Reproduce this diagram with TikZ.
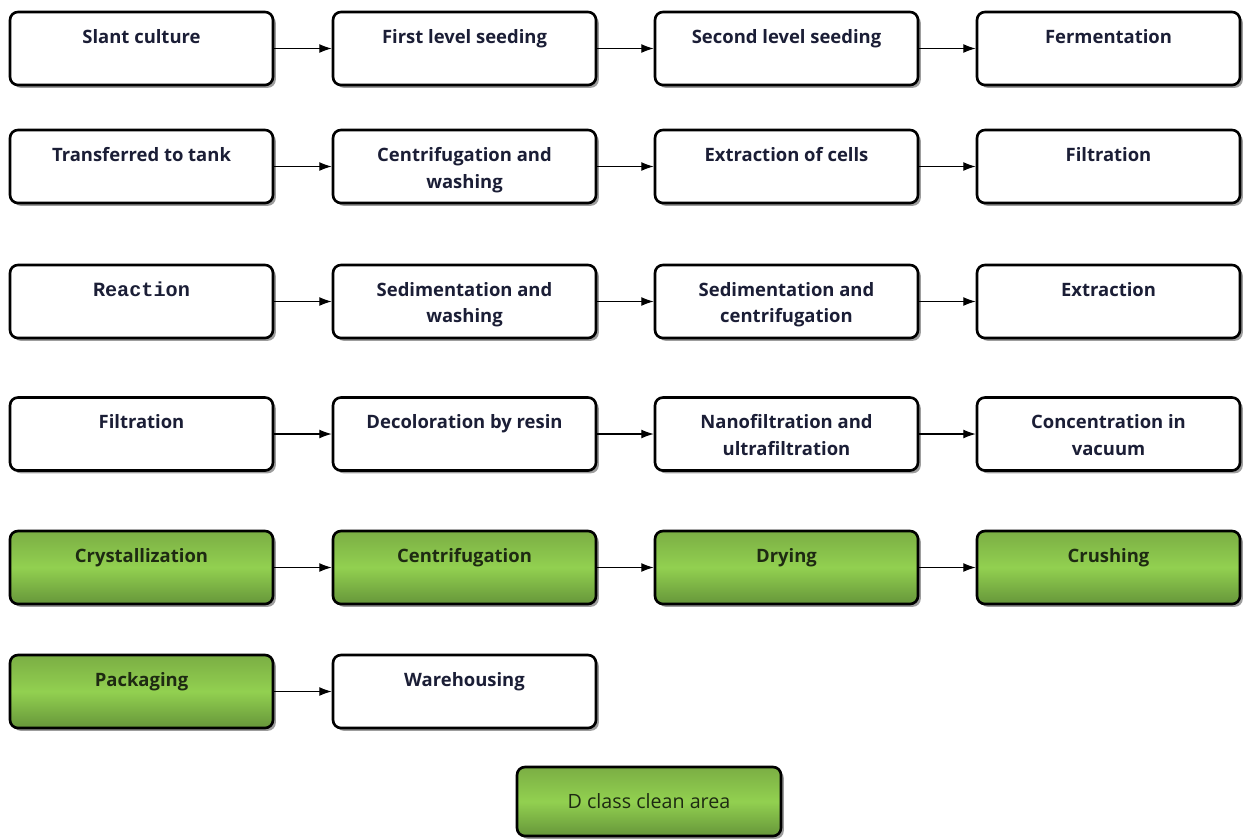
\documentclass[tikz,border=0pt]{standalone}
\usepackage{fontspec}
\setmainfont{Open Sans}
\newfontfamily\monofont{Liberation Mono}
\usetikzlibrary{arrows.meta,shadows}

\definecolor{txtdark}{HTML}{1B1E36}
\definecolor{txtgreen}{HTML}{1E2A12}
\definecolor{gtop}{HTML}{7BAE44}
\definecolor{gmid}{HTML}{92D050}
\definecolor{gbot}{HTML}{66963A}

\newcommand{\steptext}[1]{\parbox[c][0.78cm][t]{5cm}{\centering #1}}

\tikzset{
  stepbox/.style={draw=black, line width=1.5pt, rounded corners=4.5pt, fill=white,
    minimum width=5.26cm, minimum height=1.46cm, inner sep=0pt,
    font=\fontsize{10.5}{15.3}\selectfont\bfseries, text=txtdark,
    drop shadow={shadow xshift=1.6pt, shadow yshift=-1.6pt, fill=black!70, opacity=0.55}},
  cleanbox/.style={stepbox, top color=gtop, bottom color=gbot, middle color=gmid, text=txtgreen},
  flow/.style={-{Latex[length=7pt,width=5pt]}, line width=0.6pt}
}

\begin{document}
\begin{tikzpicture}[x=0.02cm, y=-0.02cm]
\useasboundingbox (0,0) rectangle (1247,839);

% row 1
\node[stepbox] (slant) at (141.5,48.5) {\steptext{Slant culture}};
\node[stepbox] (seed1) at (464.5,48.5) {\steptext{First level seeding}};
\node[stepbox] (seed2) at (786.5,48.5) {\steptext{Second level seeding}};
\node[stepbox] (ferm) at (1108.5,48.5) {\steptext{Fermentation}};

% row 2
\node[stepbox] (tank) at (141.5,166.5) {\steptext{Transferred to tank}};
\node[stepbox] (centwash) at (464.5,166.5) {\steptext{Centrifugation and\\washing}};
\node[stepbox] (cells) at (786.5,166.5) {\steptext{Extraction of cells}};
\node[stepbox] (filt1) at (1108.5,166.5) {\steptext{Filtration}};

% row 3
\node[stepbox] (react) at (141.5,301.5) {\steptext{\monofont\fontsize{11.5}{15.3}\selectfont Reaction}};
\node[stepbox] (sedwash) at (464.5,301.5) {\steptext{Sedimentation and\\washing}};
\node[stepbox] (sedcent) at (786.5,301.5) {\steptext{Sedimentation and\\centrifugation}};
\node[stepbox] (extr) at (1108.5,301.5) {\steptext{Extraction}};

% row 4
\node[stepbox] (filt2) at (141.5,434) {\steptext{Filtration}};
\node[stepbox] (resin) at (464.5,434) {\steptext{Decoloration by resin}};
\node[stepbox] (nano) at (786.5,434) {\steptext{Nanofiltration and\\ultrafiltration}};
\node[stepbox] (vacuum) at (1108.5,434) {\steptext{Concentration in\\vacuum}};

% row 5 (clean area)
\node[cleanbox] (cryst) at (141.5,567.5) {\steptext{Crystallization}};
\node[cleanbox] (centr) at (464.5,567.5) {\steptext{Centrifugation}};
\node[cleanbox] (dry) at (786.5,567.5) {\steptext{Drying}};
\node[cleanbox] (crush) at (1108.5,567.5) {\steptext{Crushing}};

% row 6
\node[cleanbox] (pack) at (141.5,691.5) {\steptext{Packaging}};
\node[stepbox] (ware) at (464.5,691.5) {\steptext{Warehousing}};

% legend
\node[cleanbox, minimum width=5.28cm, minimum height=1.38cm, font=\fontsize{11.2}{15.3}\selectfont] (legend) at (649,801.5) {D class clean area\hspace{0.44cm}};

\draw[flow] (slant) -- (seed1);
\draw[flow] (seed1) -- (seed2);
\draw[flow] (seed2) -- (ferm);
\draw[flow] (tank) -- (centwash);
\draw[flow] (centwash) -- (cells);
\draw[flow] (cells) -- (filt1);
\draw[flow] (react) -- (sedwash);
\draw[flow] (sedwash) -- (sedcent);
\draw[flow] (sedcent) -- (extr);
\draw[flow] (filt2) -- (resin);
\draw[flow] (resin) -- (nano);
\draw[flow] (nano) -- (vacuum);
\draw[flow] (cryst) -- (centr);
\draw[flow] (centr) -- (dry);
\draw[flow] (dry) -- (crush);
\draw[flow] (pack) -- (ware);
\end{tikzpicture}
\end{document}
